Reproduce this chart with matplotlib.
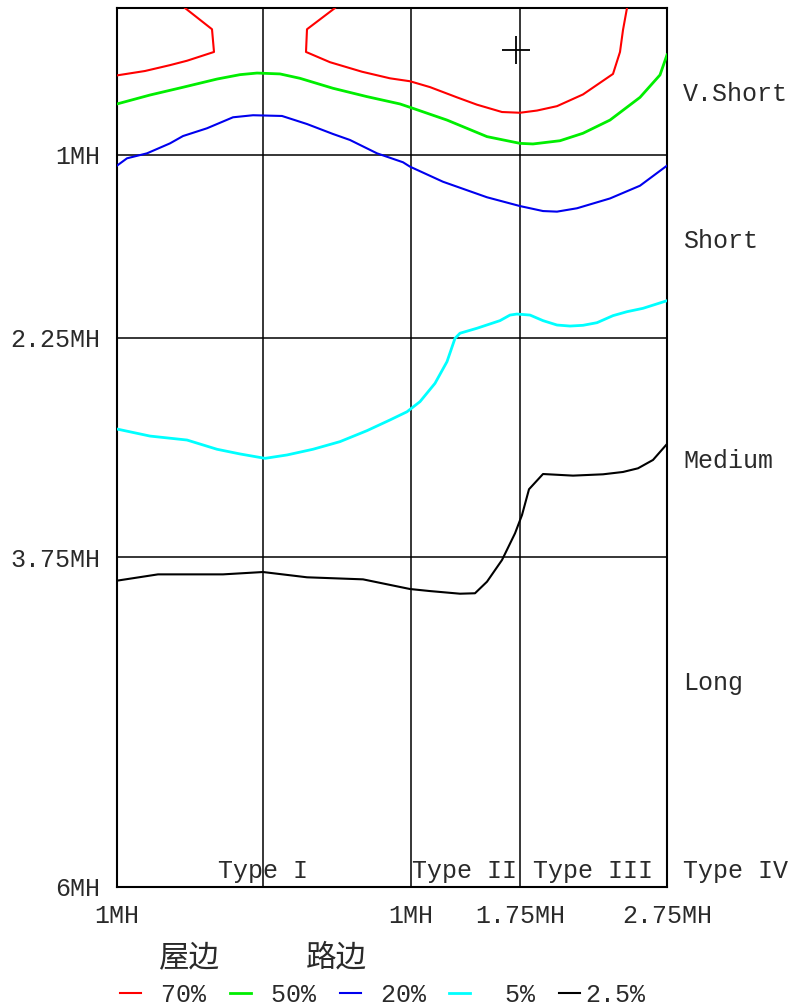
import matplotlib
matplotlib.use("Agg")
import matplotlib.pyplot as plt

plt.rcParams['font.family'] = ['Liberation Mono', 'Noto Sans CJK SC', 'DejaVu Sans']

# x is a position along the bottom axis (0 .. 5.5), y is in MH (0 at top, 6 at bottom)
red_left_x = [0.0, 0.28, 0.53, 0.70, 0.97, 0.95, 0.68]
red_left_y = [0.46, 0.43, 0.39, 0.36, 0.30, 0.145, 0.0]
red_right_x = [2.18, 1.90, 1.89, 2.13, 2.45, 2.73, 2.93, 3.13, 3.40, 3.60, 3.85, 4.03,
               4.20, 4.40, 4.66, 4.96, 5.03, 5.06, 5.10]
red_right_y = [0.0, 0.145, 0.30, 0.37, 0.435, 0.48, 0.50, 0.54, 0.61, 0.66, 0.71, 0.715,
               0.70, 0.67, 0.59, 0.45, 0.30, 0.15, 0.0]

green_x = [0.0, 0.33, 0.66, 1.0, 1.23, 1.40, 1.63, 1.83, 2.16, 2.50, 2.83, 2.93, 3.30,
           3.70, 4.03, 4.16, 4.43, 4.66, 4.93, 5.23, 5.43, 5.50]
green_y = [0.655, 0.594, 0.541, 0.485, 0.455, 0.444, 0.45, 0.48, 0.548, 0.605, 0.655,
           0.678, 0.765, 0.878, 0.924, 0.928, 0.906, 0.855, 0.765, 0.61, 0.457, 0.32]

blue_x = [0.0, 0.10, 0.30, 0.53, 0.66, 0.90, 1.16, 1.36, 1.65, 1.90, 2.16, 2.33, 2.60,
          2.86, 2.93, 3.26, 3.70, 4.03, 4.26, 4.40, 4.60, 4.93, 5.23, 5.50]
blue_y = [1.076, 1.026, 0.992, 0.924, 0.874, 0.821, 0.746, 0.732, 0.737, 0.792, 0.86,
          0.901, 0.992, 1.053, 1.083, 1.186, 1.292, 1.352, 1.386, 1.39, 1.367, 1.30,
          1.213, 1.076]

cyan_x = [0.0, 0.33, 0.70, 1.0, 1.23, 1.48, 1.70, 1.96, 2.23, 2.50, 2.73, 2.90, 3.03,
          3.18, 3.30, 3.38, 3.43, 3.60, 3.83, 3.93, 4.00, 4.13, 4.26, 4.40, 4.53, 4.66,
          4.80, 4.96, 5.10, 5.26, 5.50]
cyan_y = [2.874, 2.922, 2.949, 3.012, 3.044, 3.074, 3.051, 3.012, 2.96, 2.885, 2.812,
          2.756, 2.687, 2.562, 2.414, 2.255, 2.22, 2.186, 2.134, 2.096, 2.089, 2.096,
          2.134, 2.164, 2.171, 2.166, 2.148, 2.10, 2.073, 2.05, 1.998]

black_x = [0.0, 0.41, 1.06, 1.46, 1.90, 2.46, 2.93, 3.13, 3.43, 3.58, 3.70, 3.85, 3.98,
           4.05, 4.12, 4.26, 4.56, 4.86, 5.06, 5.21, 5.36, 5.50]
black_y = [3.909, 3.866, 3.866, 3.85, 3.886, 3.90, 3.966, 3.980, 3.998, 3.995, 3.916,
           3.768, 3.586, 3.461, 3.285, 3.181, 3.192, 3.183, 3.167, 3.142, 3.085, 2.976]

cross_xy = (3.99, 0.287)

y_ticks = [1, 2.25, 3.75, 6]
y_labels = ['1MH', '2.25MH', '3.75MH', '6MH']
x_ticks = [0, 2.94, 4.03, 5.5]
x_labels = ['1MH', '1MH', '1.75MH', '2.75MH']
x_grid = [1.46, 2.94, 4.03]

zone_names = ['V.Short', 'Short', 'Medium', 'Long']
zone_y = [0.587, 1.59, 3.09, 4.61]
type_names = ['Type I', 'Type II', 'Type III', 'Type IV']
type_x = [1.46, 2.95, 4.16, 5.66]
type_ha = ['center', 'left', 'left', 'left']

legend_labels = [' 70%', ' 50%', ' 20%', '  5%', '2.5%']
colors = ['#ff0000', '#00ee00', '#0000ee', '#00ffff', '#000000']

fs = 18
txt = '#2a2a2a'

fig = plt.figure(figsize=(7.92, 10.07), dpi=100)
ax = fig.add_axes([117 / 792, 120 / 1007, 550 / 792, 879 / 1007])

lw = 1.5
for xv in x_grid:
    ax.axvline(xv, color='black', lw=1.1, zorder=1)
for yv in y_ticks[:-1]:
    ax.axhline(yv, color='black', lw=1.1, zorder=1)

ax.plot(red_left_x, red_left_y, color=colors[0], lw=lw, zorder=3)
h_red, = ax.plot(red_right_x, red_right_y, color=colors[0], lw=lw, zorder=3)
h_green, = ax.plot(green_x, green_y, color=colors[1], lw=2.0, zorder=3)
h_blue, = ax.plot(blue_x, blue_y, color=colors[2], lw=lw, zorder=3)
h_cyan, = ax.plot(cyan_x, cyan_y, color=colors[3], lw=2.0, zorder=3)
h_black, = ax.plot(black_x, black_y, color=colors[4], lw=lw, zorder=3)
ax.plot(*cross_xy, marker='+', color='black', markersize=20, mew=1.3, zorder=4)

ax.set_xlim(0, 5.5)
ax.set_ylim(6, 0)
ax.set_yticks(y_ticks)
ax.set_yticklabels(y_labels)
ax.set_xticks(x_ticks)
ax.set_xticklabels(x_labels)
ax.tick_params(length=0, labelsize=fs, colors=txt)
ax.tick_params(axis='y', pad=12)
ax.tick_params(axis='x', pad=12)
for s in ax.spines.values():
    s.set_linewidth(1.5)

for name, yv in zip(zone_names, zone_y):
    ax.text(5.66, yv, name, fontsize=fs, va='center', ha='left', color=txt,
            clip_on=False)
for name, xv, ha in zip(type_names, type_x, type_ha):
    ax.text(xv, 5.89, name, fontsize=fs, va='center', ha=ha, color=txt,
            clip_on=False)

fig.text(159 / 792, 1 - 958 / 1007, '屋边', fontsize=22, va='center', ha='left',
         color=txt)
fig.text(306 / 792, 1 - 958 / 1007, '路边', fontsize=22, va='center', ha='left',
         color=txt)

leg = fig.legend([h_red, h_green, h_blue, h_cyan, h_black], legend_labels,
                 loc='center left', bbox_to_anchor=(120 / 792, 1 - 995 / 1007),
                 ncol=5, frameon=False, fontsize=fs, handlelength=0.84,
                 handletextpad=0.2, columnspacing=0.95, borderpad=0, borderaxespad=0)
for t in leg.get_texts():
    t.set_color(txt)

fig.savefig('out.png', dpi=100)
